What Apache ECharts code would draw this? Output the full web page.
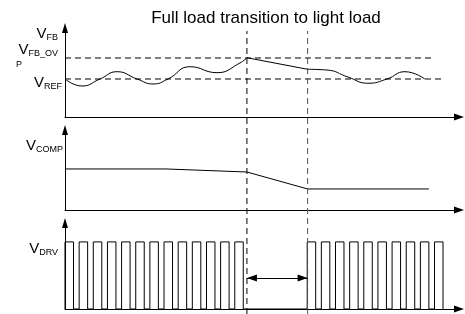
<!DOCTYPE html>
<html>
<head>
<meta charset="utf-8">
<script src="https://cdn.jsdelivr.net/npm/echarts@6/dist/echarts.min.js"></script>
<style>
html, body { margin: 0; padding: 0; background: #fff; }
#chart { width: 465px; height: 314px; }
</style>
</head>
<body>
<div id="chart"></div>
<script>
// time unit = one driver switching period
var transitionTimes = [12.86, 17.15];

// V_FB, full load part (ripple), ramp after load step, light load part
var vfbFullTime = [0, 1.2, 2.47, 3.67, 5.09, 6.22, 7.28, 8.83, 10.74, 12.37, 12.86];
var vfbFullValue = [4.27, 3.48, 4.27, 5.09, 4.27, 3.71, 4.27, 5.65, 4.98, 6.07, 6.66];
var vfbRampTime = [12.86, 17.15];
var vfbRampValue = [6.66, 5.36];
var vfbLightTime = [17.15, 18.52, 20.0, 21.41, 22.76, 24.03, 25.44];
var vfbLightValue = [5.36, 5.28, 4.49, 3.79, 4.27, 5.09, 4.27];

var refLevels = [6.63, 4.27];      // V_FB_OVP, V_REF
var refEnds = [26.15, 26.71];

var compTime = [0, 7.14, 12.86, 17.15, 25.72];
var compValue = [5.13, 5.13, 4.75, 2.63, 2.63];

var drvPulseStarts = [0, 1, 2, 3, 4, 5, 6, 7, 8, 9, 10, 11, 12,
    17.12, 18.12, 19.12, 20.12, 21.12, 22.12, 23.12, 24.12, 25.12, 26.12];
var drvPulseWidth = 0.6;
var drvHigh = 7.8;
var blankArrowLevel = 3.6;

var font = '"Liberation Sans", Arial, sans-serif';
var black = '#000';

function pairs(xs, ys) {
    return xs.map(function(x, i) { return [x, ys[i]]; });
}

function pulseData(starts) {
    var data = [];
    starts.forEach(function(s) {
        data.push([s, 0], [s, drvHigh], [s + drvPulseWidth, drvHigh], [s + drvPulseWidth, 0]);
    });
    return data;
}

function lineSeries(idx, data, opts) {
    var s = {
        type: 'line',
        xAxisIndex: idx,
        yAxisIndex: idx,
        data: data,
        showSymbol: false,
        symbol: 'none',
        silent: true,
        animation: false,
        lineStyle: { color: black, width: 1 }
    };
    for (var k in opts) s[k] = opts[k];
    return s;
}

function xAxisCfg(idx, show) {
    return {
        type: 'value', gridIndex: idx, min: 0, max: 27.85, show: show,
        axisLine: { show: true, onZero: false, symbol: ['none', 'triangle'], symbolSize: [7, 10],
            lineStyle: { color: black, width: 1 } },
        axisTick: { show: false }, axisLabel: { show: false }, splitLine: { show: false }
    };
}

function yAxisCfg(idx, max, show) {
    return {
        type: 'value', gridIndex: idx, min: 0, max: max, show: show,
        axisLine: { show: true, onZero: false, symbol: ['none', 'triangle'], symbolSize: [6, 10],
            lineStyle: { color: black, width: 1 } },
        axisTick: { show: false }, axisLabel: { show: false }, splitLine: { show: false }
    };
}

function vLabel(main, sub, x, y) {
    return {
        type: 'text', x: x, y: y, silent: true,
        style: {
            text: '{v|' + main + '}{s|' + sub + '}',
            align: 'right', verticalAlign: 'middle',
            rich: {
                v: { fontSize: 15, fontFamily: font, lineHeight: 16, fill: black },
                s: { fontSize: 9, fontFamily: font, lineHeight: 12, verticalAlign: 'bottom', fill: black }
            }
        }
    };
}

var chart = echarts.init(document.getElementById('chart'));
var dashed = { color: black, width: 1, type: [6, 4] };
var dashedGrey = { color: '#555', width: 1, type: [6, 4] };

var series = [
    lineSeries(0, pairs(vfbFullTime, vfbFullValue), { smooth: 0.5 }),
    lineSeries(0, pairs(vfbRampTime, vfbRampValue), {}),
    lineSeries(0, pairs(vfbLightTime, vfbLightValue), { smooth: 0.5 }),
    lineSeries(1, pairs(compTime, compValue), {}),
    lineSeries(2, pulseData(drvPulseStarts), {
        markLine: {
            silent: true, animation: false,
            symbol: ['triangle', 'triangle'],
            symbolSize: [7, 10],
            symbolOffset: [[0, 5], [0, 5]],
            label: { show: false },
            lineStyle: { color: black, width: 1, type: 'solid' },
            data: [[{ coord: [transitionTimes[0], blankArrowLevel] }, { coord: [transitionTimes[1], blankArrowLevel] }]]
        }
    })
];
refLevels.forEach(function(lv, i) {
    series.push(lineSeries(0, [[0, lv], [refEnds[i], lv]], { lineStyle: dashed }));
});
transitionTimes.forEach(function(t, i) {
    series.push(lineSeries(3, [[t, 0], [t, 1]], { lineStyle: i === 0 ? dashed : dashedGrey }));
});

chart.setOption({
    animation: false,
    backgroundColor: '#fff',
    grid: [
        { left: 65, right: 6, top: 28, height: 89 },
        { left: 65, right: 6, top: 130, height: 80 },
        { left: 65, right: 6, top: 223, height: 86 },
        { left: 65, right: 6, top: 31, bottom: 0 }
    ],
    xAxis: [xAxisCfg(0, true), xAxisCfg(1, true), xAxisCfg(2, true), xAxisCfg(3, false)],
    yAxis: [yAxisCfg(0, 10, true), yAxisCfg(1, 10, true), yAxisCfg(2, 10, true), yAxisCfg(3, 1, false)],
    series: series,
    graphic: [
        {
            type: 'text', x: 266, y: 18, silent: true,
            style: { text: 'Full load transition to light load', font: '17px ' + font,
                fill: black, align: 'center', verticalAlign: 'middle' }
        },
        vLabel('V', 'FB', 58, 34),
        vLabel('V', 'FB_OV', 58, 50),
        { type: 'text', x: 16, y: 65, silent: true,
            style: { text: 'P', font: '9px ' + font, fill: black, verticalAlign: 'middle' } },
        vLabel('V', 'REF', 62, 83),
        vLabel('V', 'COMP', 63, 146),
        vLabel('V', 'DRV', 58, 249)
    ]
});
</script>
</body>
</html>
